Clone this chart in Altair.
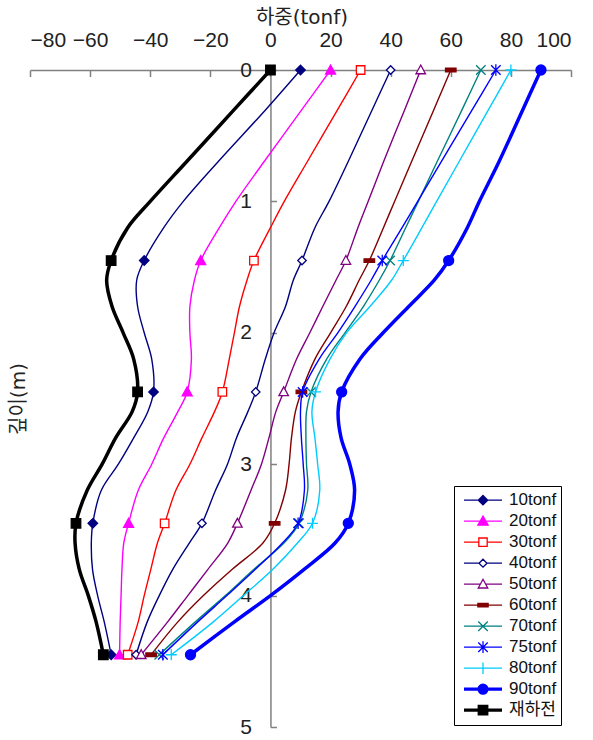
import altair as alt
import pandas as pd

FONT = "Liberation Sans, Noto Sans CJK KR"
TITLE_FONT = "DejaVu Sans, Noto Sans CJK KR"

# Load series (tonf) and pile depths (m)
SERIES = ["10tonf", "20tonf", "30tonf", "40tonf", "50tonf", "60tonf",
          "70tonf", "75tonf", "80tonf", "90tonf", "재하전"]
DEPTHS = [0, 0.3, 0.7, 1.0, 1.2, 1.45, 1.6, 1.8, 2.0, 2.2, 2.45,
          2.6, 2.8, 3.0, 3.2, 3.45, 3.6, 3.8, 4.0, 4.2, 4.45]
GAUGE_DEPTHS = [0, 1.45, 2.45, 3.45, 4.45]

LOAD_10 = [10, -1.5, -17.5, -29, -35.5, -42, -44.5, -44.2, -42, -39.5, -38.9,
           -40.8, -45.5, -50.6, -56.3, -59.1, -59.6, -59.2, -57.5, -55.3, -53]
LOAD_20 = [20, 10.5, -2.2, -11.5, -17, -23.2, -25.3, -26.8, -26.8, -26.3, -27.7,
           -30.8, -35.5, -39.5, -44, -47.2, -48.8, -49.4, -49.7, -50, -50.2]
LOAD_30 = [30, 22.4, 12.2, 4.6, 0, -5.5, -7.8, -10.3, -12, -13.7, -16,
           -18.6, -22.8, -26.8, -31.5, -35.2, -37.6, -39.8, -42, -44, -47.5]
LOAD_40 = [40, 33.9, 25.8, 19.5, 14.8, 10.5, 7.6, 5, 1.2, -1.7, -4.9,
           -7.5, -11.3, -14.3, -18.3, -22.8, -27, -32.5, -37, -41, -44.7]
LOAD_50 = [50, 44.7, 37.6, 32.5, 29.1, 25.1, 21.8, 17.4, 13.1, 8.7, 4.4,
           1.8, -0.5, -3, -6.5, -11, -14.2, -20.8, -27.5, -34.2, -43]
LOAD_60 = [60, 54.4, 46.9, 41.3, 37.6, 32.9, 29.5, 25.2, 20, 14.8, 10.3,
           8.3, 7, 6.2, 5, 1.4, -2.5, -12.7, -22.3, -30.8, -39.7]
LOAD_70 = [70, 63.8, 55.4, 49.2, 45, 39.8, 36.2, 30.9, 24.8, 18.7, 13.5,
           12, 11.8, 12, 12.4, 9.5, 4.5, -5.5, -15, -25, -37]
LOAD_75 = [75, 67.2, 56.8, 49, 43.8, 37.2, 33.5, 28.1, 22.4, 16.2, 10.7,
           10, 10.3, 10.9, 11.3, 9.2, 4, -5, -14.5, -24.2, -35.8]
LOAD_80 = [80, 72.6, 62.7, 55.3, 50.4, 44.2, 40.3, 33.1, 25.3, 19.8, 15,
           13.8, 14.8, 15.7, 16.4, 14, 9, 0.8, -9, -19, -33]
LOAD_90 = [90, 84, 76, 69.5, 65.5, 59.3, 54.5, 46, 37.5, 29.8, 23.7,
           22.5, 23.5, 26.4, 28, 25.9, 21.5, 11.2, 0, -12, -26.6]
LOAD_0 = [0, -12, -28, -40, -47.5, -53, -54.5, -52.7, -49, -45.5, -44.2,
          -46, -51.5, -56, -61, -64.7, -65, -63.6, -60.6, -58, -55.6]

LOADS = dict(zip(SERIES, [LOAD_10, LOAD_20, LOAD_30, LOAD_40, LOAD_50, LOAD_60,
                          LOAD_70, LOAD_75, LOAD_80, LOAD_90, LOAD_0]))

X_TICKS = [-80, -60, -40, -20, 0, 20, 40, 60, 80, 100]
Y_TICKS = [0, 1, 2, 3, 4, 5]

# Styling per series
LINE_COLORS = ["#000080", "#FF00FF", "#FF0000", "#000080", "#800080", "#800000",
               "#008080", "#0000FF", "#00CCFF", "#0000FF", "#000000"]
MARKER_FILLS = ["#000080", "#FF00FF", "#FFFFFF", "#FFFFFF", "#FFFFFF", "#800000",
                "#FFFFFF", "#FFFFFF", "#FFFFFF", "#0000FF", "#000000"]
THICK = ["90tonf", "재하전"]
THIN = [s for s in SERIES if s not in THICK]

MARKER_PATHS = [
    "M0,-0.95L0.95,0L0,0.95L-0.95,0Z",
    "M0,-1L1,0.8L-1,0.8Z",
    "M-0.85,-0.85L0.85,-0.85L0.85,0.85L-0.85,0.85Z",
    "M0,-0.85L0.85,0L0,0.85L-0.85,0Z",
    "M0,-1L0.95,0.75L-0.95,0.75Z",
    "M-1.05,-0.35L1.05,-0.35L1.05,0.35L-1.05,0.35Z",
    "M-0.95,-0.95L0.95,0.95M-0.95,0.95L0.95,-0.95",
    "M-0.95,-0.95L0.95,0.95M-0.95,0.95L0.95,-0.95M0,-1.15L0,1.15",
    "M-1.1,0L1.1,0M0,-1.1L0,1.1",
    "M-1,0A1,1,0,1,0,1,0A1,1,0,1,0,-1,0Z",
    "M-0.95,-0.95L0.95,-0.95L0.95,0.95L-0.95,0.95Z",
]

# Legend glyphs: line segment with the marker in the middle
THICK_SEG = "M-1,-0.05L1,-0.05M-1,0L1,0M-1,0.05L1,0.05"
LEGEND_PATHS = [
    "M-1,0L1,0M0,-0.25L0.25,0L0,0.25L-0.25,0Z",
    "M-1,0L1,0M0,-0.27L0.27,0.21L-0.27,0.21Z",
    "M-1,0L-0.22,0M0.22,0L1,0M-0.22,-0.22L0.22,-0.22L0.22,0.22L-0.22,0.22Z",
    "M-1,0L-0.21,0M0.21,0L1,0M0,-0.21L0.21,0L0,0.21L-0.21,0Z",
    "M-1,0L-0.14,0M0.14,0L1,0M0,-0.26L0.25,0.2L-0.25,0.2Z",
    "M-1,0L1,0M-0.27,-0.09L0.27,-0.09L0.27,0.09L-0.27,0.09Z",
    "M-1,0L1,0M-0.25,-0.25L0.25,0.25M-0.25,0.25L0.25,-0.25",
    "M-1,0L1,0M-0.25,-0.25L0.25,0.25M-0.25,0.25L0.25,-0.25M0,-0.31L0,0.31",
    "M-1,0L1,0M0,-0.3L0,0.3",
    THICK_SEG + "M-0.26,0A0.26,0.26,0,1,0,0.26,0A0.26,0.26,0,1,0,-0.26,0Z",
    THICK_SEG + "M-0.25,-0.25L0.25,-0.25L0.25,0.25L-0.25,0.25Z",
]

rows = []
for name in SERIES:
    for d, v in zip(DEPTHS, LOADS[name]):
        rows.append({"series": name, "depth": d, "load": v,
                     "gauge": d in GAUGE_DEPTHS})
df = pd.DataFrame(rows)

W, H = 541, 657
x_scale = alt.Scale(domain=[-80, 100], nice=False, zero=False)
y_scale = alt.Scale(domain=[0, 5], reverse=True, nice=False, zero=False)
zero_px = (0 - (-80)) / 180 * W

X_AXIS_LABELS = alt.Axis(
    orient="top", values=X_TICKS, ticks=False, tickSize=0, labelPadding=20,
    labelFontSize=21, labelFont=FONT, labelColor="#222222",
    domainColor="#808080", domainWidth=1.5, grid=False,
    title="하중(tonf)", titleFont=TITLE_FONT, titleFontSize=20,
    titleFontWeight="normal", titleColor="#222222",
    titleX=W / 2 + 1, titleY=-47, titleAlign="center", titleBaseline="alphabetic")
X_AXIS_TICKS = alt.Axis(
    orient="top", values=X_TICKS, offset=-6.5, domain=False, labels=False,
    ticks=True, tickSize=6.5, tickColor="#808080", tickWidth=1.5,
    grid=False, title=None)
Y_AXIS = alt.Axis(
    orient="right", offset=-(W - zero_px), values=Y_TICKS, tickSize=6,
    tickColor="#808080", tickWidth=1.5, domainColor="#808080", domainWidth=1.5,
    labelAlign="right", labelBaseline="middle", labelPadding=-25,
    labelFontSize=21, labelFont=FONT, labelColor="#222222", grid=False,
    title="깊이(m)", titleAngle=270, titleX=-(zero_px + 12), titleY=H / 2,
    titleAlign="center", titleBaseline="middle", titleFont=TITLE_FONT,
    titleFontSize=20, titleFontWeight="normal", titleColor="#222222")

base = alt.Chart(df)
line_color = alt.Color("series:N", scale=alt.Scale(domain=SERIES, range=LINE_COLORS),
                       legend=None)

thin_lines = base.transform_filter(
    alt.FieldOneOfPredicate(field="series", oneOf=THIN)
).mark_line(strokeWidth=1.4, interpolate="catmull-rom").encode(
    x=alt.X("load:Q", scale=x_scale, axis=X_AXIS_LABELS),
    y=alt.Y("depth:Q", scale=y_scale, axis=Y_AXIS),
    color=line_color,
    order=alt.Order("depth:Q"),
)

thick_lines = base.transform_filter(
    alt.FieldOneOfPredicate(field="series", oneOf=THICK)
).mark_line(strokeWidth=3.5, interpolate="catmull-rom").encode(
    x=alt.X("load:Q", scale=x_scale, axis=X_AXIS_TICKS),
    y=alt.Y("depth:Q", scale=y_scale, axis=Y_AXIS),
    color=line_color,
    order=alt.Order("depth:Q"),
)

markers = base.transform_filter(alt.datum.gauge).mark_point(
    filled=True, size=100, strokeWidth=1.3, opacity=1
).encode(
    x=alt.X("load:Q", scale=x_scale, axis=None),
    y=alt.Y("depth:Q", scale=y_scale, axis=Y_AXIS),
    shape=alt.Shape("series:N", scale=alt.Scale(domain=SERIES, range=MARKER_PATHS),
                    legend=None),
    fill=alt.Fill("series:N", scale=alt.Scale(domain=SERIES, range=MARKER_FILLS),
                  legend=None),
    stroke=alt.Stroke("series:N", scale=alt.Scale(domain=SERIES, range=LINE_COLORS),
                      legend=None),
)

LEGEND = alt.Legend(
    orient="none", legendX=424, legendY=416, title=None,
    strokeColor="black", fillColor="white", padding=4,
    symbolSize=1444, symbolStrokeWidth=1.3, symbolFillColor="white",
    labelFont=FONT, labelFontSize=17, labelColor="#111111",
    clipHeight=20.4, rowPadding=0, symbolOffset=5, labelOffset=6)

legend_layer = base.transform_filter("datum.depth < 0").mark_point(
    filled=True, opacity=1
).encode(
    shape=alt.Shape("series:N", scale=alt.Scale(domain=SERIES, range=LEGEND_PATHS),
                    legend=LEGEND),
    fill=alt.Fill("series:N", scale=alt.Scale(domain=SERIES, range=MARKER_FILLS),
                  legend=LEGEND),
    stroke=alt.Stroke("series:N", scale=alt.Scale(domain=SERIES, range=LINE_COLORS),
                      legend=LEGEND),
)

chart = alt.layer(thin_lines, thick_lines, markers, legend_layer).resolve_scale(
    shape="independent", fill="independent", stroke="independent"
).resolve_axis(
    x="independent"
).properties(
    width=W, height=H,
    padding={"left": 30, "top": 70, "right": 22, "bottom": 13},
    autosize=alt.AutoSizeParams(type="none"),
    background="white",
).configure_view(stroke=None)

chart.save("out.html", embed_options={"renderer": "svg", "actions": False})
